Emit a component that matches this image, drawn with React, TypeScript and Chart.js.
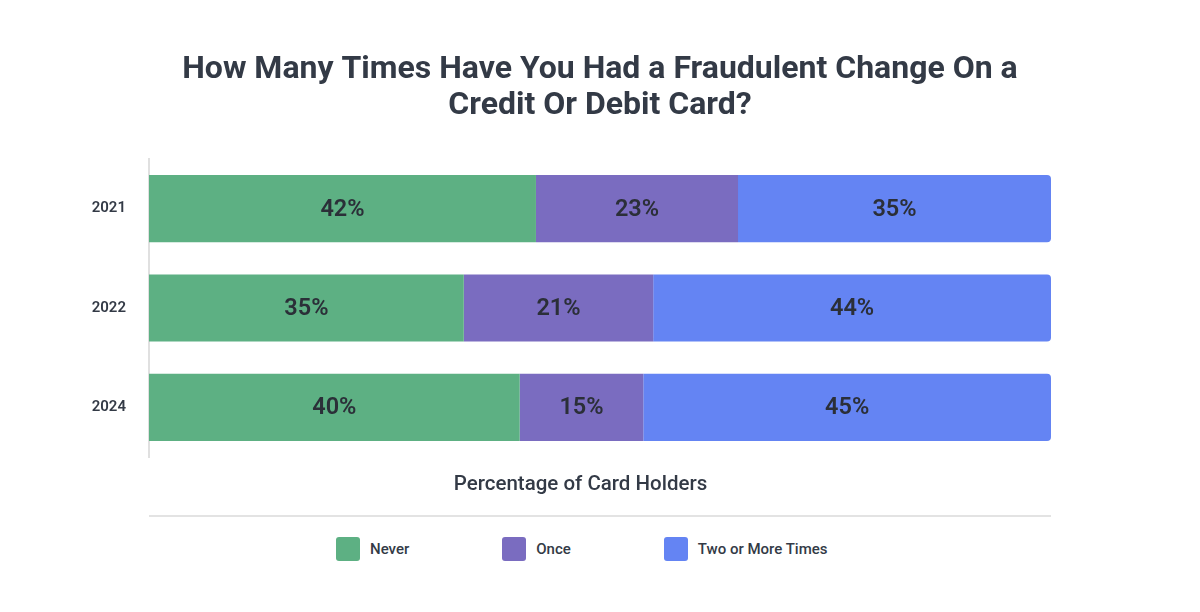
import { useEffect, useRef } from 'react';
import { Chart, registerables } from 'chart.js';

Chart.register(...registerables);

const years = ['2021', '2022', '2024'];
const seriesNames = ['Never', 'Once', 'Two or More Times'];
const seriesColors = ['#5DB083', '#7A6CC0', '#6484F3'];

// bar lengths as drawn
const neverValues = [42.9, 34.9, 41.1];
const onceValues = [22.4, 21.0, 13.7];
const twoPlusValues = [34.7, 44.1, 45.2];

// percentages printed on the bars
const neverShown = [42, 35, 40];
const onceShown = [23, 21, 15];
const twoPlusShown = [35, 44, 45];

const titleLines = ['How Many Times Have You Had a Fraudulent Change On a', 'Credit Or Debit Card?'];
const xTitle = 'Percentage of Card Holders';

const textColor = '#333a46';

const barLabels = {
  id: 'barLabels',
  afterDatasetsDraw(chart: any) {
    const shown = [neverShown, onceShown, twoPlusShown];
    const { ctx } = chart;
    ctx.save();
    ctx.font = '600 23.5px Roboto';
    ctx.fillStyle = '#2b2f38';
    ctx.textAlign = 'center';
    ctx.textBaseline = 'middle';
    chart.data.datasets.forEach((_ds: any, i: number) => {
      const meta = chart.getDatasetMeta(i);
      meta.data.forEach((bar: any, j: number) => {
        const { x, y, base } = bar.getProps(['x', 'y', 'base'], true);
        ctx.fillText(shown[i][j] + '%', (x + base) / 2, y + 1);
      });
    });
    ctx.restore();
  },
};

// axis title (sits a little left of centre, like the legend) and the rule under it
const bottomDecor = {
  id: 'bottomDecor',
  afterDraw(chart: any) {
    const { ctx, chartArea } = chart;
    const cx = (chartArea.left + chartArea.right) / 2 - 19.5;
    ctx.save();
    ctx.font = '500 20.5px Roboto';
    ctx.fillStyle = textColor;
    ctx.textAlign = 'center';
    ctx.textBaseline = 'middle';
    ctx.fillText(xTitle, cx, chartArea.bottom + 28);

    ctx.strokeStyle = '#e3e3e3';
    ctx.lineWidth = 2;
    ctx.beginPath();
    ctx.moveTo(chartArea.left, 516);
    ctx.lineTo(chartArea.right, 516);
    ctx.stroke();
    ctx.restore();
  },
};

export default function App() {
  const canvasRef = useRef<HTMLCanvasElement>(null);
  const chartRef = useRef<Chart | null>(null);

  useEffect(() => {
    document.body.style.margin = '0';
    if (!canvasRef.current) return;
    const ctx = canvasRef.current.getContext('2d');
    if (!ctx) return;

    if (chartRef.current) {
      chartRef.current.destroy();
    }

    Chart.defaults.font.family = 'Roboto';

    const values = [neverValues, onceValues, twoPlusValues];

    chartRef.current = new Chart(ctx, {
      type: 'bar',
      data: {
        labels: years,
        datasets: seriesNames.map((name, i) => ({
          label: name,
          data: values[i],
          backgroundColor: seriesColors[i],
          borderWidth: 0,
          borderRadius: i === 2 ? { topLeft: 0, bottomLeft: 0, topRight: 4, bottomRight: 4 } : 0,
          borderSkipped: false,
          barPercentage: 0.677,
          categoryPercentage: 1,
        })),
      },
      options: {
        indexAxis: 'y',
        responsive: true,
        maintainAspectRatio: false,
        animation: false,
        layout: {
          padding: 0,
        },
        plugins: {
          legend: { display: false },
          tooltip: { enabled: false },
          title: {
            display: true,
            text: titleLines,
            color: textColor,
            font: { size: 32, weight: 'bold', lineHeight: 1.125 },
            padding: { top: 52, bottom: 35 },
          },
        },
        scales: {
          x: {
            stacked: true,
            min: 0,
            max: 100,
            grid: { display: false },
            border: { display: false },
            ticks: { display: false },
            afterFit(scale: any) {
              scale.height = 73;
            },
          },
          y: {
            stacked: true,
            grid: { display: false, drawTicks: false },
            border: { display: true, color: '#e0e0e0', width: 2 },
            ticks: {
              color: textColor,
              padding: 23,
              font: { size: 15, weight: '600' },
            },
            afterFit(scale: any) {
              scale.width = 149;
            },
          },
          // empty right-hand margin so the chart sits centred
          yRight: {
            type: 'category',
            position: 'right',
            grid: { display: false, drawTicks: false },
            border: { display: false },
            ticks: { display: false },
            afterFit(scale: any) {
              scale.width = 149;
            },
          },
        },
      },
      plugins: [barLabels, bottomDecor],
    });

    return () => {
      if (chartRef.current) {
        chartRef.current.destroy();
        chartRef.current = null;
      }
    };
  }, []);

  return (
    <div style={{ width: 1200, height: 612, background: '#fff', fontFamily: 'Roboto' }}>
      <div style={{ position: 'relative', width: 1200, height: 530 }}>
        <canvas ref={canvasRef} />
      </div>
      <div style={{ display: 'flex', alignItems: 'center', paddingLeft: 336, marginTop: 7, gap: 93 }}>
        {seriesNames.map((name, i) => (
          <div key={name} style={{ display: 'flex', alignItems: 'center' }}>
            <span
              style={{
                display: 'inline-block',
                width: 24,
                height: 24,
                borderRadius: 3,
                background: seriesColors[i],
                marginRight: 10,
              }}
            />
            <span style={{ fontSize: 15, fontWeight: 500, color: textColor }}>{name}</span>
          </div>
        ))}
      </div>
    </div>
  );
}
